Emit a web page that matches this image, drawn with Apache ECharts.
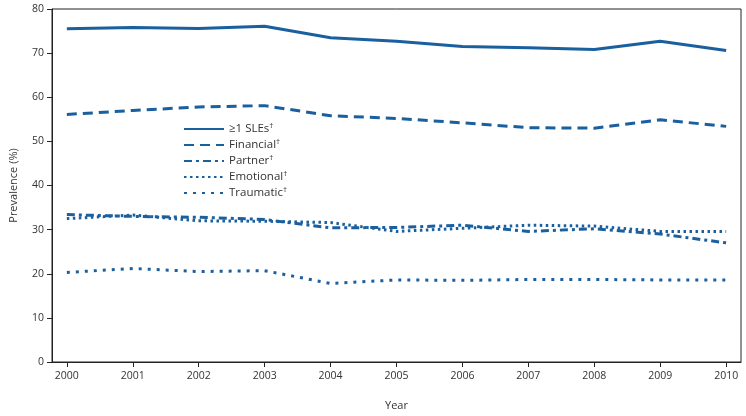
<!DOCTYPE html>
<html>
<head>
<meta charset="utf-8">
<script src="https://cdn.jsdelivr.net/npm/echarts@6/dist/echarts.min.js"></script>
<style>html,body{margin:0;padding:0;background:#fff}#c{width:746px;height:416px}</style>
</head>
<body>
<div id="c"></div>
<script>
var years = [2000, 2001, 2002, 2003, 2004, 2005, 2006, 2007, 2008, 2009, 2010];
var yTicks = [0, 10, 20, 30, 40, 50, 60, 70, 80];
var seriesNames = ['≥1 SLEs', 'Financial', 'Partner', 'Emotional', 'Traumatic'];
var sles = [75.5, 75.8, 75.6, 76.1, 73.5, 72.7, 71.5, 71.2, 70.8, 72.7, 70.6];
var financial = [56.1, 57.0, 57.8, 58.1, 55.8, 55.2, 54.2, 53.1, 53.0, 54.9, 53.4];
var partner = [33.4, 33.0, 32.8, 32.3, 30.4, 30.5, 31.0, 29.6, 30.2, 29.0, 27.0];
var emotional = [32.5, 33.3, 32.0, 31.9, 31.6, 29.6, 30.3, 31.0, 30.8, 29.6, 29.6];
var traumatic = [20.3, 21.2, 20.5, 20.7, 17.8, 18.6, 18.5, 18.7, 18.7, 18.6, 18.6];

var COLOR = '#1a5f9e';
var FONT = 'Open Sans';
function pairs(vals) { return years.map(function (y, i) { return [y, vals[i]]; }); }
var styles = [
  { width: 3, type: 'solid' },
  { width: 3, type: [10, 6] },
  { width: 3, type: [8, 4, 3, 4] },
  { width: 3, type: [2.5, 3.5] },
  { width: 3, type: [3, 6] }
];
var dataSets = [sles, financial, partner, emotional, traumatic];
var series = dataSets.map(function (d, i) {
  return {
    name: seriesNames[i], type: 'line', data: pairs(d),
    symbol: 'none', smooth: false, color: COLOR,
    lineStyle: { color: COLOR, width: styles[i].width, type: styles[i].type }
  };
});

var chart = echarts.init(document.getElementById('c'));
chart.setOption({
  animation: false,
  grid: { left: 45, right: 5, top: 9, bottom: 53, show: true, borderColor: '#222', borderWidth: 1 },
  legend: {
    orient: 'vertical', left: 178, top: 117, itemGap: 3, itemWidth: 40, itemHeight: 11,
    data: seriesNames,
    itemStyle: { opacity: 0 },
    formatter: function (n) { return '{a|' + n + '}{s|†}'; },
    textStyle: {
      color: '#333', fontFamily: FONT, fontSize: 11.5,
      rich: { a: { fontFamily: FONT, fontSize: 11.5, color: '#333' }, s: { fontFamily: FONT, fontSize: 8, color: '#333', verticalAlign: 'top', padding: [0, 0, 6, 0] } }
    }
  },
  xAxis: {
    type: 'value', min: 1999.775, max: 2010.225,
    name: 'Year', nameLocation: 'middle', nameGap: 38,
    nameTextStyle: { fontFamily: FONT, fontSize: 11, color: '#333' },
    axisLine: { lineStyle: { color: '#222', width: 1 } },
    axisTick: { show: true, length: 5, customValues: years, lineStyle: { color: '#222' } },
    axisLabel: { customValues: years, fontFamily: FONT, fontSize: 10.5, color: '#333', margin: 9,
      formatter: function (v) { return String(v); } },
    splitLine: { show: false }
  },
  yAxis: {
    type: 'value', min: 0, max: 80, interval: 10,
    name: 'Prevalence (%)', nameLocation: 'middle', nameGap: 33,
    nameTextStyle: { fontFamily: FONT, fontSize: 11, color: '#333' },
    axisLine: { show: true, lineStyle: { color: '#222', width: 1 } },
    axisTick: { show: true, length: 5, lineStyle: { color: '#222' } },
    axisLabel: { fontFamily: FONT, fontSize: 10.5, color: '#333', margin: 8 },
    splitLine: { show: false }
  },
  series: series
});
</script>
</body>
</html>
